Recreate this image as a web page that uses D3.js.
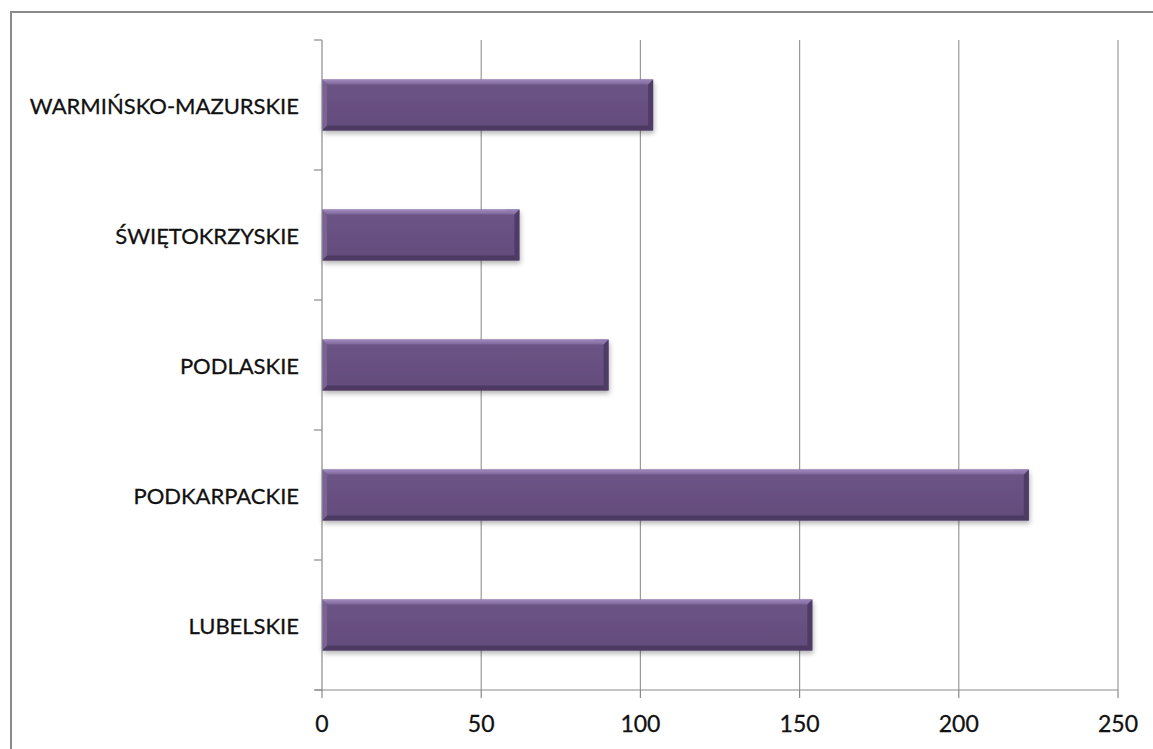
<!DOCTYPE html>
<html><head><meta charset="utf-8">
<script src="https://cdnjs.cloudflare.com/ajax/libs/d3/7.8.5/d3.min.js"></script>
<style>html,body{margin:0;padding:0;background:#fff;overflow:hidden}</style>
</head><body>
<script>
const categories = ["WARMIŃSKO-MAZURSKIE","ŚWIĘTOKRZYSKIE","PODLASKIE","PODKARPACKIE","LUBELSKIE"];
const values = [104, 62, 90, 222, 154];
const xTicks = [0, 50, 100, 150, 200, 250];

const W = 1153, H = 749;
const m = {left: 322, right: 35, top: 40, bottom: 59};
const svg = d3.select("body").append("svg").attr("width", W).attr("height", H);

const defs = svg.append("defs");
const g1 = defs.append("linearGradient").attr("id","body").attr("x1",0).attr("y1",0).attr("x2",0).attr("y2",1);
g1.append("stop").attr("offset","0%").attr("stop-color","#6c5586");
g1.append("stop").attr("offset","100%").attr("stop-color","#634c7c");
const g2 = defs.append("linearGradient").attr("id","topb").attr("x1",0).attr("y1",0).attr("x2",0).attr("y2",1);
g2.append("stop").attr("offset","0%").attr("stop-color","#a08bc0");
g2.append("stop").attr("offset","100%").attr("stop-color","#7d6597");
const f = defs.append("filter").attr("id","sh").attr("x","-5%").attr("y","-20%").attr("width","110%").attr("height","160%");
f.append("feDropShadow").attr("dx",1).attr("dy",3).attr("stdDeviation",2.5).attr("flood-color","#000").attr("flood-opacity",0.3);

// outer border
svg.append("rect").attr("x",11).attr("y",12).attr("width",1160).attr("height",760)
  .attr("fill","none").attr("stroke","#8a8a8a").attr("stroke-width",2);

const x = d3.scaleLinear().domain([0,250]).range([m.left, W - m.right]);
const y = d3.scaleBand().domain(categories).range([m.top, H - m.bottom]).paddingInner(0.608).paddingOuter(0.304);
const yOuter = d3.scaleBand().domain(categories).range([m.top, H - m.bottom]);

// gridlines
svg.append("g").selectAll("line").data(xTicks.slice(1)).join("line")
  .attr("x1", d => x(d)).attr("x2", d => x(d))
  .attr("y1", m.top).attr("y2", H - m.bottom)
  .attr("stroke","#9a9a9a").attr("stroke-width",1.2);

// bars
const bars = svg.append("g").selectAll("g").data(categories).join("g");
const bv = 5;
bars.each(function(c, i){
  const gg = d3.select(this);
  const x0 = x(0), x1 = x(values[i]);
  const y0 = y(c), y1 = y(c) + y.bandwidth();
  gg.append("rect").attr("x",x0).attr("y",y0).attr("width",x1-x0).attr("height",y1-y0)
    .attr("fill","url(#body)").attr("filter","url(#sh)");
  gg.append("path").attr("d",`M${x0},${y0}L${x1},${y0}L${x1-bv},${y0+bv}L${x0+bv},${y0+bv}Z`).attr("fill","url(#topb)");
  gg.append("path").attr("d",`M${x1},${y0}L${x1},${y1}L${x1-bv},${y1-bv}L${x1-bv},${y0+bv}Z`).attr("fill","#4f3c66");
  gg.append("path").attr("d",`M${x0},${y1}L${x1},${y1}L${x1-bv},${y1-bv}L${x0+bv},${y1-bv}Z`).attr("fill","#4c3a62");
  gg.append("path").attr("d",`M${x0},${y0}L${x0+bv},${y0+bv}L${x0+bv},${y1-bv}L${x0},${y1}Z`).attr("fill","#7a6394");
  gg.append("path").attr("d",`M${x1-bv-10},${y0}L${x1},${y0}L${x1-bv},${y0+bv}Z`).attr("fill","#8e78ae").attr("opacity",0.5);
});

const font = "Lato, 'Open Sans', sans-serif";
// y axis
const yAxis = svg.append("g");
yAxis.append("line").attr("x1",x(0)).attr("x2",x(0)).attr("y1",m.top).attr("y2",H-m.bottom).attr("stroke","#8a8a8a").attr("stroke-width",1.2);
const bounds = categories.map(c => yOuter(c)).concat([H - m.bottom]);
yAxis.selectAll("line.t").data(bounds).join("line").attr("class","t")
  .attr("x1",x(0)-8).attr("x2",x(0)).attr("y1",d=>d).attr("y2",d=>d).attr("stroke","#8a8a8a").attr("stroke-width",1.2);
yAxis.selectAll("text").data(categories).join("text")
  .attr("x", x(0) - 23).attr("y", c => yOuter(c) + yOuter.bandwidth()/2)
  .attr("text-anchor","end").attr("dominant-baseline","central")
  .attr("font-family",font).attr("font-size",22).attr("fill","#111")
  .attr("stroke","#111").attr("stroke-width",0.3)
  .text(c => c);

// x axis
const xAxis = svg.append("g");
xAxis.append("line").attr("x1",x(0)-7).attr("x2",x(250)).attr("y1",H-m.bottom).attr("y2",H-m.bottom).attr("stroke","#8a8a8a").attr("stroke-width",1.2);
xAxis.selectAll("line.t").data(xTicks).join("line").attr("class","t")
  .attr("x1",d=>x(d)).attr("x2",d=>x(d)).attr("y1",H-m.bottom).attr("y2",H-m.bottom+8).attr("stroke","#8a8a8a").attr("stroke-width",1.2);
xAxis.selectAll("text").data(xTicks).join("text")
  .attr("x",d=>x(d)).attr("y",H-m.bottom+33).attr("text-anchor","middle").attr("dominant-baseline","central")
  .attr("font-family",font).attr("font-size",23).attr("fill","#111")
  .attr("stroke","#111").attr("stroke-width",0.3)
  .text(d=>d);
</script>
</body></html>
